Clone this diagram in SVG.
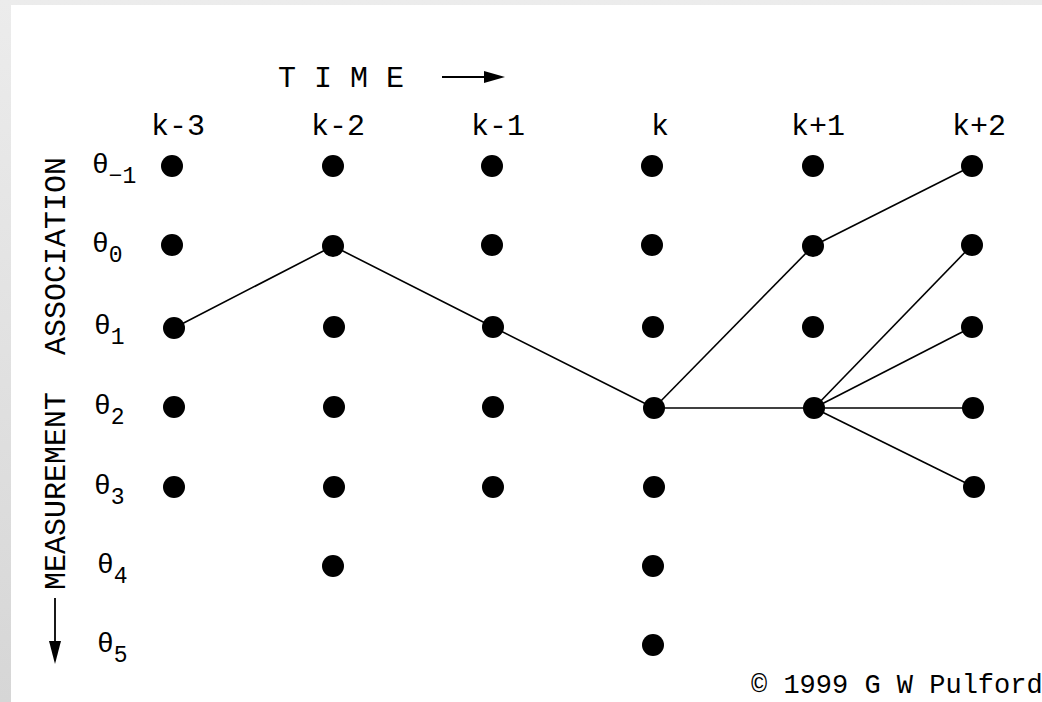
<svg xmlns="http://www.w3.org/2000/svg" width="1042" height="702" viewBox="0 0 1042 702">
<defs>
<linearGradient id="bg" x1="0" y1="0" x2="0" y2="1">
<stop offset="0" stop-color="#ececec"/>
<stop offset="1" stop-color="#d6d6d6"/>
</linearGradient>
<style>
.t{font-family:"Liberation Mono","DejaVu Sans Mono",monospace;fill:#000}
.big{font-size:30px}
.th{font-size:28px}
.sub{font-size:23px}
.cp{font-size:27px}
.dot{fill:#000}
.edge{stroke:#000;stroke-width:1.6;fill:none}
.ax{stroke:#000;stroke-width:1.8;fill:none}
</style>
</defs>
<rect x="0" y="0" width="1042" height="702" fill="url(#bg)"/>
<rect x="11" y="5" width="1031" height="697" fill="#fff"/>

<g id="time-axis">
<text class="t big" x="278" y="87" xml:space="preserve">T I M E</text>
<line class="ax" x1="442" y1="77" x2="490" y2="77"/>
<polygon points="484,71 505,77 484,83" fill="#000"/>
</g>

<g id="meas-axis">
<text class="t big" transform="translate(65,590) rotate(-90)">MEASUREMENT</text>
<text class="t big" transform="translate(65,355) rotate(-90)">ASSOCIATION</text>
<line class="ax" x1="55" y1="598" x2="55" y2="645"/>
<polygon points="49,641 55,664 61,641" fill="#000"/>
</g>

<g id="time-labels" text-anchor="middle">
<text class="t big" x="178" y="135">k-3</text>
<text class="t big" x="338" y="135">k-2</text>
<text class="t big" x="498" y="135">k-1</text>
<text class="t big" x="660" y="135">k</text>
<text class="t big" x="818" y="135">k+1</text>
<text class="t big" x="979" y="135">k+2</text>
</g>

<g id="theta-labels">
<text class="t th" x="92" y="173">θ<tspan class="sub" dy="10">−1</tspan></text>
<text class="t th" x="92" y="252">θ<tspan class="sub" dy="10">0</tspan></text>
<text class="t th" x="94" y="334">θ<tspan class="sub" dy="10">1</tspan></text>
<text class="t th" x="94" y="414">θ<tspan class="sub" dy="10">2</tspan></text>
<text class="t th" x="94" y="494">θ<tspan class="sub" dy="10">3</tspan></text>
<text class="t th" x="97" y="573">θ<tspan class="sub" dy="10">4</tspan></text>
<text class="t th" x="97" y="652">θ<tspan class="sub" dy="10">5</tspan></text>
</g>

<g id="connectors">
<polyline class="edge" points="174,328 333,246 493,327 654,408"/>
<line class="edge" x1="654" y1="408" x2="813" y2="246"/>
<line class="edge" x1="654" y1="408" x2="814" y2="408"/>
<line class="edge" x1="813" y1="246" x2="972" y2="166"/>
<line class="edge" x1="814" y1="408" x2="972" y2="245"/>
<line class="edge" x1="814" y1="408" x2="972" y2="327"/>
<line class="edge" x1="814" y1="408" x2="973" y2="408"/>
<line class="edge" x1="814" y1="408" x2="974" y2="487"/>
</g>

<g id="col-k-3">
<circle id="n-k-3-m1" class="dot" cx="172" cy="166" r="11"/>
<circle id="n-k-3-0" class="dot" cx="172" cy="245" r="11"/>
<circle id="n-k-3-1" class="dot" cx="174" cy="328" r="11"/>
<circle id="n-k-3-2" class="dot" cx="174" cy="407" r="11"/>
<circle id="n-k-3-3" class="dot" cx="174" cy="487" r="11"/>
</g>
<g id="col-k-2">
<circle id="n-k-2-m1" class="dot" cx="333" cy="166" r="11"/>
<circle id="n-k-2-0" class="dot" cx="333" cy="246" r="11"/>
<circle id="n-k-2-1" class="dot" cx="334" cy="327" r="11"/>
<circle id="n-k-2-2" class="dot" cx="334" cy="407" r="11"/>
<circle id="n-k-2-3" class="dot" cx="334" cy="487" r="11"/>
<circle id="n-k-2-4" class="dot" cx="333" cy="566" r="11"/>
</g>
<g id="col-k-1">
<circle id="n-k-1-m1" class="dot" cx="492" cy="166" r="11"/>
<circle id="n-k-1-0" class="dot" cx="492" cy="245" r="11"/>
<circle id="n-k-1-1" class="dot" cx="493" cy="327" r="11"/>
<circle id="n-k-1-2" class="dot" cx="493" cy="407" r="11"/>
<circle id="n-k-1-3" class="dot" cx="493" cy="487" r="11"/>
</g>
<g id="col-k">
<circle id="n-k-m1" class="dot" cx="652" cy="166" r="11"/>
<circle id="n-k-0" class="dot" cx="652" cy="245" r="11"/>
<circle id="n-k-1" class="dot" cx="653" cy="327" r="11"/>
<circle id="n-k-2" class="dot" cx="654" cy="408" r="11"/>
<circle id="n-k-3" class="dot" cx="654" cy="487" r="11"/>
<circle id="n-k-4" class="dot" cx="653" cy="566" r="11"/>
<circle id="n-k-5" class="dot" cx="653" cy="645" r="11"/>
</g>
<g id="col-k+1">
<circle id="n-k+1-m1" class="dot" cx="813" cy="166" r="11"/>
<circle id="n-k+1-0" class="dot" cx="813" cy="246" r="11"/>
<circle id="n-k+1-1" class="dot" cx="813" cy="327" r="11"/>
<circle id="n-k+1-2" class="dot" cx="814" cy="408" r="11"/>
</g>
<g id="col-k+2">
<circle id="n-k+2-m1" class="dot" cx="972" cy="166" r="11"/>
<circle id="n-k+2-0" class="dot" cx="972" cy="245" r="11"/>
<circle id="n-k+2-1" class="dot" cx="972" cy="327" r="11"/>
<circle id="n-k+2-2" class="dot" cx="973" cy="408" r="11"/>
<circle id="n-k+2-3" class="dot" cx="974" cy="487" r="11"/>
</g>

<g id="copyright">
<text class="t cp" x="751" y="693">© 1999 G W Pulford</text>
</g>
</svg>
